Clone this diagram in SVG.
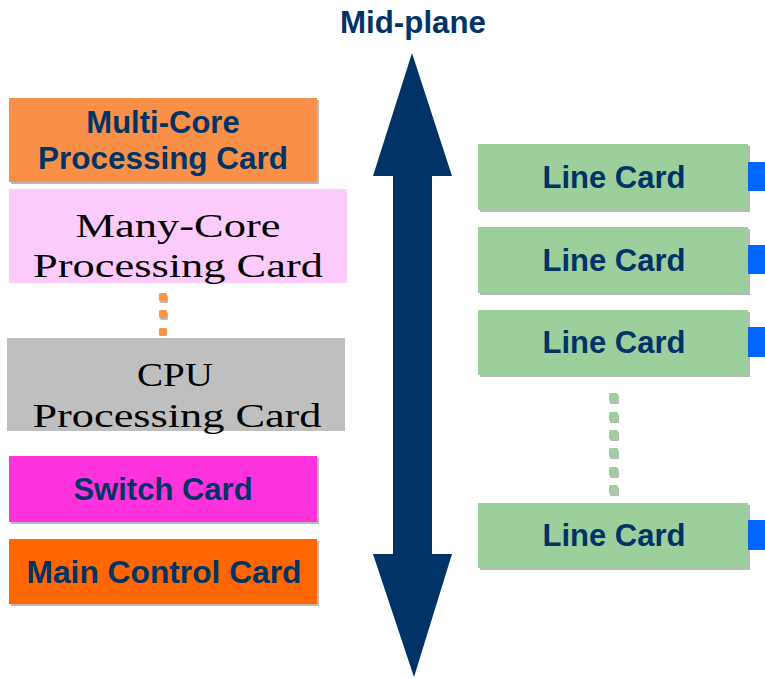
<svg xmlns="http://www.w3.org/2000/svg" width="765" height="679" viewBox="0 0 765 679">
  <style>
    .shadow { fill: #7f7f7f; opacity: 0.55; }
    .bold { font-family: "Liberation Sans", Arial, sans-serif; font-weight: bold; font-size: 31px; fill: #003366; text-anchor: middle; }
    .serif { font-family: "Liberation Serif", "Times New Roman", serif; font-size: 34px; fill: #000000; text-anchor: middle; }
    .line { fill: #9dcf9d; }
    .port { fill: #0066ff; }
    .odot { fill: #f79548; }
    .gdot { fill: #9dcf9d; }
  </style>

  <!-- mid-plane title and double arrow -->
  <g id="midplane">
    <text class="bold" x="413" y="33" textLength="146" lengthAdjust="spacingAndGlyphs">Mid-plane</text>
    <polygon fill="#003366" points="412,53 452,176 432,176 432,554 452,554 414,677 373,554 393,554 393,176 373,176"/>
  </g>

  <!-- left column: processing, switch and control cards -->
  <g id="multi-core-card">
    <rect class="shadow" x="11" y="100" width="308" height="84"/>
    <rect x="9" y="98" width="308" height="84" fill="#fa9048"/>
    <text class="bold" x="163" y="133">Multi-Core</text>
    <text class="bold" x="163" y="169" textLength="250" lengthAdjust="spacingAndGlyphs">Processing Card</text>
  </g>

  <g id="many-core-card">
    <rect x="9" y="189" width="338" height="94" fill="#fccbfc"/>
    <text class="serif" x="178" y="237" textLength="205" lengthAdjust="spacingAndGlyphs">Many-Core</text>
    <text class="serif" x="178" y="277" textLength="290" lengthAdjust="spacingAndGlyphs">Processing Card</text>
  </g>

  <g id="cpu-card">
    <rect x="7" y="338" width="338" height="93" fill="#bfbfbf"/>
    <text class="serif" x="175" y="386" textLength="76" lengthAdjust="spacingAndGlyphs">CPU</text>
    <text class="serif" x="177" y="427" textLength="289" lengthAdjust="spacingAndGlyphs">Processing Card</text>
  </g>

  <g id="switch-card">
    <rect class="shadow" x="11" y="458" width="308" height="66"/>
    <rect x="9" y="456" width="308" height="66" fill="#ff33dd"/>
    <text class="bold" x="163" y="500">Switch Card</text>
  </g>

  <g id="main-control-card">
    <rect class="shadow" x="11" y="541" width="308" height="65"/>
    <rect x="9" y="539" width="308" height="65" fill="#ff6600"/>
    <text class="bold" x="164" y="583" textLength="275" lengthAdjust="spacingAndGlyphs">Main Control Card</text>
  </g>

  <!-- right column: line cards with their front ports -->
  <g id="line-card-1">
    <rect class="shadow" x="480" y="146" width="270" height="66"/>
    <rect class="line" x="478" y="144" width="270" height="66"/>
    <rect class="port" x="748" y="162" width="17" height="29"/>
    <text class="bold" x="614" y="188">Line Card</text>
  </g>

  <g id="line-card-2">
    <rect class="shadow" x="480" y="229" width="270" height="66"/>
    <rect class="line" x="478" y="227" width="270" height="66"/>
    <rect class="port" x="748" y="245" width="17" height="29"/>
    <text class="bold" x="614" y="271">Line Card</text>
  </g>

  <g id="line-card-3">
    <rect class="shadow" x="480" y="312" width="270" height="65"/>
    <rect class="line" x="478" y="310" width="270" height="65"/>
    <rect class="port" x="748" y="327" width="17" height="30"/>
    <text class="bold" x="614" y="353">Line Card</text>
  </g>

  <g id="line-card-4">
    <rect class="shadow" x="480" y="505" width="270" height="65"/>
    <rect class="line" x="478" y="503" width="270" height="65"/>
    <rect class="port" x="748" y="520" width="17" height="30"/>
    <text class="bold" x="614" y="546">Line Card</text>
  </g>

  <!-- ellipsis dots between cards -->
  <g id="connectors">
    <g id="processing-dots">
      <rect class="shadow" x="160" y="295" width="8" height="8" rx="1.5"/>
      <rect class="odot" x="159" y="293" width="8" height="8" rx="1.5"/>
      <rect class="shadow" x="160" y="312" width="8" height="8" rx="1.5"/>
      <rect class="odot" x="159" y="310" width="8" height="8" rx="1.5"/>
      <rect class="odot" x="159" y="328" width="8" height="8" rx="1.5"/>
    </g>
    <g id="line-card-dots">
      <rect class="shadow" x="610" y="395" width="9" height="9" rx="1.5"/>
      <rect class="gdot" x="609" y="393" width="9" height="9" rx="1.5"/>
      <rect class="shadow" x="610" y="414" width="9" height="9" rx="1.5"/>
      <rect class="gdot" x="609" y="412" width="9" height="9" rx="1.5"/>
      <rect class="shadow" x="610" y="432" width="9" height="9" rx="1.5"/>
      <rect class="gdot" x="609" y="430" width="9" height="9" rx="1.5"/>
      <rect class="shadow" x="610" y="450" width="9" height="9" rx="1.5"/>
      <rect class="gdot" x="609" y="448" width="9" height="9" rx="1.5"/>
      <rect class="shadow" x="610" y="469" width="9" height="9" rx="1.5"/>
      <rect class="gdot" x="609" y="467" width="9" height="9" rx="1.5"/>
      <rect class="shadow" x="610" y="487" width="9" height="9" rx="1.5"/>
      <rect class="gdot" x="609" y="485" width="9" height="9" rx="1.5"/>
    </g>
  </g>
</svg>
